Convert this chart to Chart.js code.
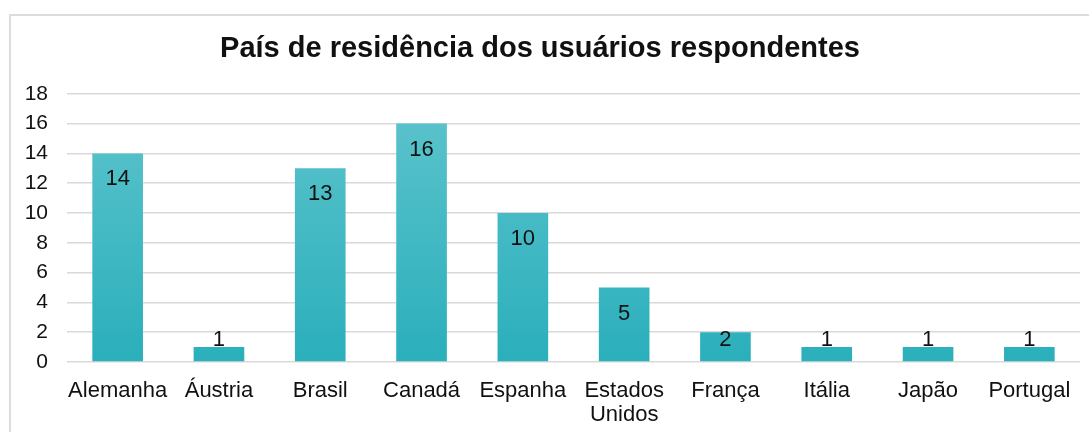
<!DOCTYPE html>
<html>
<head>
<meta charset="utf-8">
<script src="https://cdn.jsdelivr.net/npm/chart.js@4"></script>
<style>
    html, body { margin: 0; padding: 0; background: #fff; overflow: hidden; }
    #frame {
        position: absolute; left: 9px; top: 14px; width: 1100px; height: 440px;
        border-left: 2px solid #dcdcdc; border-top: 2px solid #dcdcdc;
    }
    #wrap { position: absolute; left: 0; top: 0; width: 1089px; height: 432px; }
</style>
</head>
<body>
<div id="frame"></div>
<div id="wrap"><canvas id="countryChart"></canvas></div>
<script>
// 데이터
const countries = ['Alemanha', 'Áustria', 'Brasil', 'Canadá', 'Espanha', ['Estados', 'Unidos'], 'França', 'Itália', 'Japão', 'Portugal'];
const respondents = [14, 1, 13, 16, 10, 5, 2, 1, 1, 1];
const yTicks = [0, 2, 4, 6, 8, 10, 12, 14, 16, 18];

document.addEventListener('DOMContentLoaded', function() {
    const ctx = document.getElementById('countryChart');
    const font = '"Liberation Sans", Arial, sans-serif';

    // 막대 위 값 표시
    const valueLabels = {
        id: 'valueLabels',
        afterDatasetsDraw(chart) {
            const c = chart.ctx;
            const meta = chart.getDatasetMeta(0);
            c.save();
            c.font = '22px ' + font;
            c.fillStyle = '#111';
            c.textAlign = 'center';
            c.textBaseline = 'middle';
            meta.data.forEach((bar, i) => {
                const y = Math.min(bar.y + 26, bar.base - 21);
                c.fillText(String(respondents[i]), bar.x, y);
            });
            c.restore();
        }
    };

    new Chart(ctx, {
        type: 'bar',
        data: {
            labels: countries,
            datasets: [{
                data: respondents,
                backgroundColor: function(context) {
                    const area = context.chart.chartArea;
                    if (!area) return '#3fb9c4';
                    const g = context.chart.ctx.createLinearGradient(0, area.top, 0, area.bottom);
                    g.addColorStop(0, '#5ec4cd');
                    g.addColorStop(1, '#2aafbb');
                    return g;
                },
                borderWidth: 0,
                categoryPercentage: 1,
                barPercentage: 0.5
            }]
        },
        plugins: [valueLabels],
        options: {
            responsive: true,
            maintainAspectRatio: false,
            animation: false,
            layout: { padding: { top: 14, right: 9, left: 0, bottom: 0 } },
            plugins: {
                legend: { display: false },
                tooltip: { enabled: false },
                title: {
                    display: true,
                    text: 'País de residência dos usuários respondentes',
                    color: '#111',
                    font: { family: font, size: 29, weight: 'bold' },
                    padding: { top: 18, bottom: 27 }
                }
            },
            scales: {
                x: {
                    grid: { display: false },
                    border: { display: false },
                    ticks: {
                        color: '#111',
                        font: { family: font, size: 22, lineHeight: 1.1 },
                        padding: 9,
                        maxRotation: 0,
                        autoSkip: false
                    },
                    afterFit: function(scale) { scale.height = 70; }
                },
                y: {
                    min: 0,
                    max: 18,
                    afterBuildTicks: function(scale) {
                        scale.ticks = yTicks.map(v => ({ value: v }));
                    },
                    grid: { color: '#d9d9d9', lineWidth: 1.5, drawTicks: false },
                    border: { display: false },
                    ticks: {
                        color: '#111',
                        font: { family: font, size: 21 },
                        padding: 19
                    },
                    afterFit: function(scale) { scale.width = 67; }
                }
            }
        }
    });
});
</script>
</body>
</html>
